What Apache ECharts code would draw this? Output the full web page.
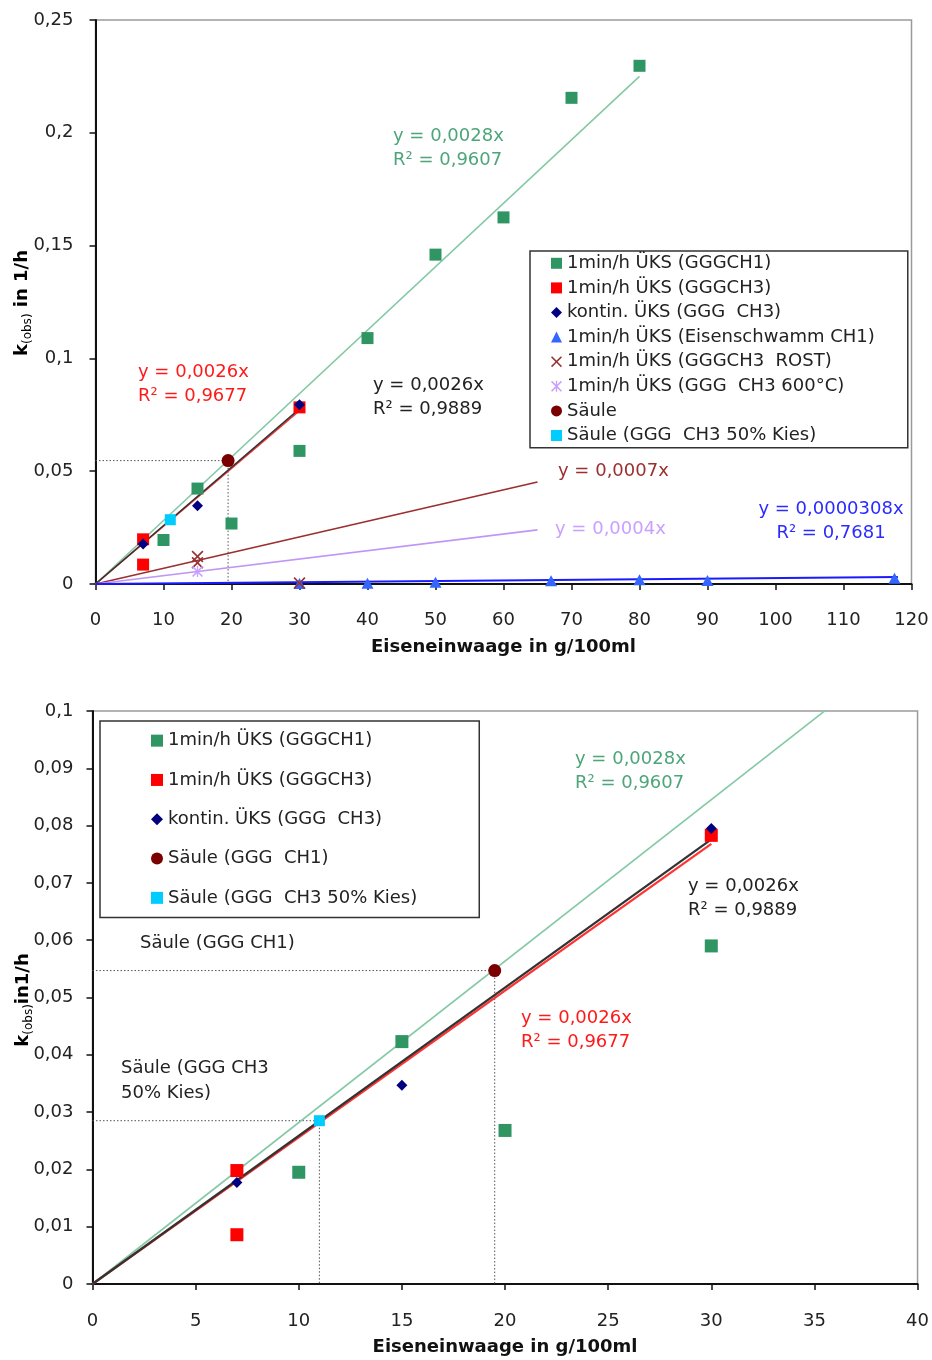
<!DOCTYPE html>
<html>
<head>
<meta charset="utf-8">
<script src="https://cdn.jsdelivr.net/npm/echarts@6/dist/echarts.min.js"></script>
<style>
html,body{margin:0;padding:0;background:#fff;}
#c{width:932px;height:1360px;}
</style>
</head>
<body>
<div id="c"></div>
<script>
// ---------- data ----------
const gggch1 = [[10,0.0195],[15,0.0423],[20,0.0268],[30,0.0590],[40,0.1090],[50,0.1460],[60,0.1625],[70,0.2155],[80,0.2297]];
const gggch3 = [[7,0.0198],[7,0.0086],[30,0.0783]];
const kontin = [[7,0.0177],[15,0.0347],[30,0.0795]];
const eisenschwamm = [[30,0.0002],[40,0.0003],[50,0.0008],[67,0.0014],[80,0.0019],[90,0.0016],[117.5,0.0026]];
const rost = [[15,0.0122],[15,0.0094],[30,0.0004]];
const ch3_600 = [[15,0.0055]];
const saeule = [[19.5,0.0547]];
const saeuleKies = [[11,0.0285]];

// trend line end points
const trendGGGCH1 = [[0,0],[80,0.2250]];
const trendGGGCH1Long = [[0,0],[40,0.1127]];
const trendKontin = [[0,0],[30,0.0776]];
const trendGGGCH3 = [[0,0],[30,0.0768]];
const trendRost = [[0,0],[65,0.0452]];
const trend600 = [[0,0],[65,0.0240]];
const trendEisen = [[0,0],[118,0.0031]];

// dotted guide lines
const guideSaeuleH = [[0,0.0547],[19.5,0.0547]];
const guideSaeuleV = [[19.5,0.0547],[19.5,0]];
const guideKiesH = [[0,0.0285],[11,0.0285]];
const guideKiesV = [[11,0.0285],[11,0]];

// axes
const topX = {min:0, max:120, interval:10};
const topY = {min:0, max:0.25, interval:0.05};
const botX = {min:0, max:40, interval:5};
const botY = {min:0, max:0.1, interval:0.01};

// names
const legendTop = ['1min/h ÜKS (GGGCH1)','1min/h ÜKS (GGGCH3)','kontin. ÜKS (GGG  CH3)','1min/h ÜKS (Eisenschwamm CH1)','1min/h ÜKS (GGGCH3  ROST)','1min/h ÜKS (GGG  CH3 600°C)','Säule','Säule (GGG  CH3 50% Kies)'];
const legendBot = ['1min/h ÜKS (GGGCH1)','1min/h ÜKS (GGGCH3)','kontin. ÜKS (GGG  CH3)','Säule (GGG  CH1)','Säule (GGG  CH3 50% Kies)'];

// ---------- chart ----------
const FONT = 'DejaVu Sans';
const C = {
  green:'#2f9563', greenLine:'#84c9a5', greenText:'#4da57a',
  red:'#ff0000', redText:'#ff1a1a',
  navy:'#000080', blue:'#3366ff', blueLine:'#1a1aff', blueText:'#2b2bff',
  brown:'#993333', brownLine:'#9b2f2f', lav:'#c9a0ff', lavLine:'#c096f5', lavText:'#c9a0ff',
  maroon:'#7a0000', cyan:'#00ccff'
};
const xPath = 'path://M0,1L1,0L5,4L9,0L10,1L6,5L10,9L9,10L5,6L1,10L0,9L4,5Z';
const starPath = 'path://M0,1L1,0L5,4L9,0L10,1L6,5L10,9L9,10L5,6L1,10L0,9L4,5Z M4.4,0L5.6,0L5.6,10L4.4,10Z';

function fmt(v){ return String(+v.toFixed(4)).replace('.', ','); }
function inRange(arr, xr, yr){ return arr.filter(p => p[0] >= xr.min && p[0] <= xr.max && p[1] >= yr.min && p[1] <= yr.max); }

function xAxisCfg(gi, r, margin, nameGap){
  return {
    type:'value', gridIndex:gi, min:r.min, max:r.max, interval:r.interval,
    axisLine:{show:true, onZero:false, lineStyle:{color:'#111', width:2}},
    axisTick:{show:true, length:6, lineStyle:{color:'#111', width:1.5}},
    splitLine:{show:false},
    axisLabel:{margin:margin, color:'#222', fontFamily:FONT, fontSize:18, formatter:fmt},
    name:'Eiseneinwaage in g/100ml', nameLocation:'middle', nameGap:nameGap,
    nameTextStyle:{fontFamily:FONT, fontSize:18, fontWeight:'bold', color:'#111'}
  };
}
function yAxisCfg(gi, r, margin){
  return {
    type:'value', gridIndex:gi, min:r.min, max:r.max, interval:r.interval,
    axisLine:{show:true, onZero:false, lineStyle:{color:'#111', width:2}},
    axisTick:{show:true, length:6, lineStyle:{color:'#111', width:1.5}},
    splitLine:{show:false},
    axisLabel:{margin:margin, color:'#222', fontFamily:FONT, fontSize:18, formatter:fmt}
  };
}
function line(gi, data, color, width, type, z){
  return {type:'line', xAxisIndex:gi, yAxisIndex:gi, data:data, symbol:'none', silent:true,
    lineStyle:{color:color, width:width, type:type||'solid'}, z:z||2, animation:false, clip:true};
}
function scatter(gi, name, data, symbol, size, color, z){
  return {type:'scatter', xAxisIndex:gi, yAxisIndex:gi, name:name, data:data, symbol:symbol,
    symbolSize:size, itemStyle:{color:color, opacity:1}, z:z||5, animation:false, clip:true};
}
const DOT = [1.5, 2];

const series = [
  // ----- top chart -----
  line(0, guideSaeuleH, '#555', 1, DOT, 1),
  line(0, guideSaeuleV, '#555', 1, DOT, 1),
  line(0, trendGGGCH1, C.greenLine, 1.6),
  line(0, trendGGGCH3, '#ff3333', 1.6),
  line(0, trendKontin, '#333', 1.6),
  line(0, trendRost, C.brownLine, 1.6),
  line(0, trend600, C.lavLine, 1.6),
  line(0, trendEisen, C.blueLine, 2),
  scatter(0, legendTop[0], gggch1, 'rect', 12, C.green),
  scatter(0, legendTop[1], gggch3, 'rect', 12, C.red),
  scatter(0, legendTop[2], kontin, 'diamond', 11, C.navy, 6),
  scatter(0, legendTop[3], eisenschwamm, 'triangle', [12,11], C.blue),
  scatter(0, legendTop[4], rost, xPath, 12, C.brown, 6),
  scatter(0, legendTop[5], ch3_600, starPath, 11, C.lav, 6),
  scatter(0, legendTop[6], saeule, 'circle', 13, C.maroon),
  scatter(0, legendTop[7], saeuleKies, 'rect', 11, C.cyan),
  // ----- bottom chart -----
  line(1, guideSaeuleH, '#555', 1, DOT, 1),
  line(1, guideSaeuleV, '#555', 1, DOT, 1),
  line(1, guideKiesH, '#555', 1, DOT, 1),
  line(1, guideKiesV, '#555', 1, DOT, 1),
  line(1, trendGGGCH1Long, C.greenLine, 1.6),
  line(1, trendGGGCH3, '#ff3333', 2.2),
  line(1, trendKontin, '#333', 2.2),
  scatter(1, legendBot[0], inRange(gggch1, botX, botY), 'rect', 13, C.green),
  scatter(1, legendBot[1], inRange(gggch3, botX, botY), 'rect', 13, C.red),
  scatter(1, legendBot[2], inRange(kontin, botX, botY), 'diamond', 11, C.navy, 6),
  scatter(1, legendBot[3], saeule, 'circle', 13, C.maroon),
  scatter(1, legendBot[4], saeuleKies, 'rect', 11, C.cyan)
];

function txt(x, y, text, color, align, lh){
  return {type:'text', x:x, y:y, silent:true, z:20,
    style:{text:text, fill:color, font:'18px "'+FONT+'"', fontFamily:FONT, fontSize:18,
      lineHeight:lh||24, align:align||'left', textAlign:align||'left', verticalAlign:'top', textVerticalAlign:'top'}};
}
function yTitle(x, y, after){
  return {type:'text', x:x, y:y, rotation:Math.PI/2, silent:true, z:20,
    style:{text:'{b|k}{s|(obs)}{b|'+after+'}', align:'center', textAlign:'center', verticalAlign:'middle', textVerticalAlign:'middle',
      rich:{
        b:{fontFamily:FONT, fontSize:18, fontWeight:'bold', color:'#111', lineHeight:24, verticalAlign:'middle'},
        s:{fontFamily:FONT, fontSize:12, color:'#111', lineHeight:13, verticalAlign:'bottom'}
      }}};
}

const option = {
  backgroundColor:'#fff',
  animation:false,
  grid:[
    {left:95.5, top:20, width:816, height:564, show:true, borderColor:'#9a9a9a', borderWidth:1.5, containLabel:false},
    {left:92.5, top:711, width:827, height:573, show:true, borderColor:'#9a9a9a', borderWidth:1.5, containLabel:false}
  ],
  xAxis:[xAxisCfg(0, topX, 27, 54), xAxisCfg(1, botX, 28, 54)],
  yAxis:[yAxisCfg(0, topY, 22), yAxisCfg(1, botY, 19)],
  legend:[
    {data:legendTop, orient:'vertical', left:530, top:251, padding:[0,33,0,21], itemGap:0,
      itemWidth:11, itemHeight:11, selectedMode:false, borderColor:'#333', borderWidth:1.5,
      backgroundColor:'#fff', z:10,
      textStyle:{fontFamily:FONT, fontSize:18, color:'#222', lineHeight:24.6}},
    {data:legendBot, orient:'vertical', left:100, top:721, padding:[0,62,0,51], itemGap:0,
      itemWidth:12, itemHeight:12, selectedMode:false, borderColor:'#333', borderWidth:1.5,
      backgroundColor:'#fff', z:10,
      textStyle:{fontFamily:FONT, fontSize:18, color:'#222', lineHeight:39.3}}
  ],
  graphic:[
    yTitle(22, 303, ' in 1/h'),
    yTitle(23, 1000, 'in1/h'),
    // top annotations
    txt(393, 124, 'y = 0,0028x\nR² = 0,9607', C.greenText),
    txt(138, 360, 'y = 0,0026x\nR² = 0,9677', C.redText),
    txt(373, 373, 'y = 0,0026x\nR² = 0,9889', '#222'),
    txt(558, 459, 'y = 0,0007x', C.brownLine),
    txt(555, 517, 'y = 0,0004x', C.lavText),
    txt(831, 497, 'y = 0,0000308x\nR² = 0,7681', C.blueText, 'center'),
    // bottom annotations
    txt(575, 747, 'y = 0,0028x\nR² = 0,9607', C.greenText),
    txt(688, 874, 'y = 0,0026x\nR² = 0,9889', '#222'),
    txt(521, 1006, 'y = 0,0026x\nR² = 0,9677', C.redText),
    txt(140, 931, 'Säule (GGG CH1)', '#222'),
    txt(121, 1056, 'Säule (GGG CH3\n50% Kies)', '#222', 'left', 25)
  ],
  series:series
};

const chart = echarts.init(document.getElementById('c'), null, {renderer:'canvas'});
chart.setOption(option);
</script>
</body>
</html>
